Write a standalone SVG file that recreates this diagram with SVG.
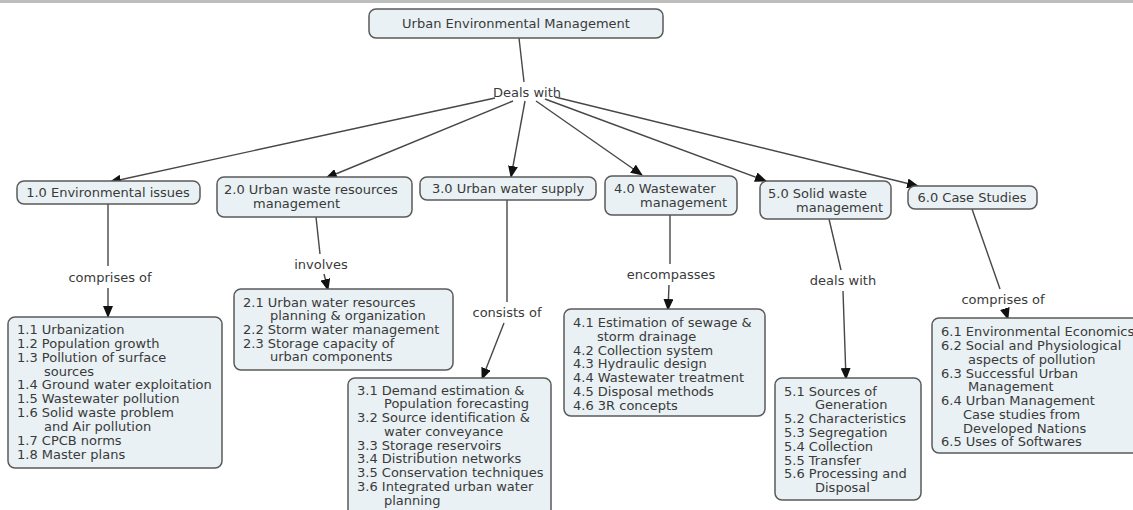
<svg xmlns="http://www.w3.org/2000/svg" width="1133" height="510" viewBox="0 0 1133 510">
<style>
.box{fill:#e9f1f4;stroke:#5a5a5a;stroke-width:1.5}
.t{font-family:"DejaVu Sans",Verdana,sans-serif;font-size:13px;fill:#3a3a3a}
.c{text-anchor:middle}
.ln{stroke:#474747;stroke-width:1.4;fill:none}
.ar{stroke:#474747;stroke-width:1.4;fill:none;marker-end:url(#ah)}
</style>
<defs>
<marker id="ah" markerUnits="userSpaceOnUse" markerWidth="12" markerHeight="10" refX="11" refY="5" orient="auto">
<path d="M0,0 L12,5 L0,10 Z" fill="#111"/>
</marker>
</defs>
<rect x="0" y="0" width="1133" height="3" fill="#bdbdbd"/>
<g id="connectors">
<line class="ln" x1="519" y1="38" x2="524" y2="82"/>
<line class="ar" x1="495" y1="98" x2="110" y2="182"/>
<line class="ar" x1="513" y1="101" x2="326" y2="178"/>
<line class="ar" x1="525" y1="101" x2="511" y2="177"/>
<line class="ar" x1="536" y1="101" x2="642" y2="175"/>
<line class="ar" x1="545" y1="99" x2="766" y2="181"/>
<line class="ar" x1="555" y1="97" x2="918" y2="186"/>
<line class="ln" x1="108" y1="204" x2="108" y2="266"/>
<line class="ar" x1="108" y1="288" x2="108" y2="317"/>
<line class="ln" x1="316" y1="217" x2="320" y2="254"/>
<line class="ar" x1="324" y1="274" x2="328" y2="290"/>
<line class="ln" x1="507" y1="200" x2="507" y2="302"/>
<line class="ar" x1="504" y1="323" x2="482" y2="379"/>
<line class="ln" x1="670" y1="215" x2="670" y2="264"/>
<line class="ar" x1="669" y1="285" x2="668" y2="310"/>
<line class="ln" x1="829" y1="219" x2="841" y2="270"/>
<line class="ar" x1="843" y1="291" x2="846" y2="379"/>
<line class="ln" x1="972" y1="209" x2="1000" y2="289"/>
<line class="ar" x1="1005" y1="309" x2="1008" y2="319"/>
</g>
<g id="labels">
<text class="t c" x="527" y="97">Deals with</text>
<text class="t c" x="110" y="282">comprises of</text>
<text class="t c" x="321" y="269">involves</text>
<text class="t c" x="507" y="317">consists of</text>
<text class="t c" x="671" y="279">encompasses</text>
<text class="t c" x="843" y="285">deals with</text>
<text class="t c" x="1003" y="304">comprises of</text>
</g>
<g id="root">
<rect class="box" x="369" y="9" width="294" height="29" rx="7"/>
<text class="t c" x="516" y="28">Urban Environmental Management</text>
</g>
<g id="n1">
<rect class="box" x="17" y="181" width="183" height="23" rx="7"/>
<text class="t c" x="108" y="197">1.0 Environmental issues</text>
</g>
<g id="n2">
<rect class="box" x="217" y="177" width="195" height="40" rx="7"/>
<text class="t" x="224" y="194">2.0 Urban waste resources</text>
<text class="t" x="253" y="208">management</text>
</g>
<g id="n3">
<rect class="box" x="420" y="177" width="176" height="23" rx="7"/>
<text class="t c" x="508" y="193">3.0 Urban water supply</text>
</g>
<g id="n4">
<rect class="box" x="605" y="176" width="132" height="39" rx="7"/>
<text class="t" x="614" y="193">4.0 Wastewater</text>
<text class="t" x="640" y="207">management</text>
</g>
<g id="n5">
<rect class="box" x="760" y="181" width="131" height="38" rx="7"/>
<text class="t" x="768" y="198">5.0 Solid waste</text>
<text class="t" x="796" y="212">management</text>
</g>
<g id="n6">
<rect class="box" x="908" y="186" width="129" height="23" rx="7"/>
<text class="t c" x="972" y="202">6.0 Case Studies</text>
</g>
<g id="d1">
<rect class="box" x="8" y="317" width="214" height="151" rx="7"/>
<text class="t" x="17" y="334">1.1 Urbanization</text>
<text class="t" x="17" y="348">1.2 Population growth</text>
<text class="t" x="17" y="362">1.3 Pollution of surface</text>
<text class="t" x="44" y="376">sources</text>
<text class="t" x="17" y="389">1.4 Ground water exploitation</text>
<text class="t" x="17" y="403">1.5 Wastewater pollution</text>
<text class="t" x="17" y="417">1.6 Solid waste problem</text>
<text class="t" x="44" y="431">and Air pollution</text>
<text class="t" x="17" y="445">1.7 CPCB norms</text>
<text class="t" x="17" y="459">1.8 Master plans</text>
</g>
<g id="d2">
<rect class="box" x="234" y="289" width="219" height="81" rx="7"/>
<text class="t" x="243" y="307">2.1 Urban water resources</text>
<text class="t" x="270" y="320">planning &amp; organization</text>
<text class="t" x="243" y="334">2.2 Storm water management</text>
<text class="t" x="243" y="348">2.3 Storage capacity of</text>
<text class="t" x="270" y="361">urban components</text>
</g>
<g id="d3">
<rect class="box" x="348" y="378" width="203" height="140" rx="7"/>
<text class="t" x="357" y="395">3.1 Demand estimation &amp;</text>
<text class="t" x="384" y="408">Population forecasting</text>
<text class="t" x="357" y="422">3.2 Source identification &amp;</text>
<text class="t" x="384" y="436">water conveyance</text>
<text class="t" x="357" y="450">3.3 Storage reservoirs</text>
<text class="t" x="357" y="463">3.4 Distribution networks</text>
<text class="t" x="357" y="477">3.5 Conservation techniques</text>
<text class="t" x="357" y="491">3.6 Integrated urban water</text>
<text class="t" x="384" y="505">planning</text>
</g>
<g id="d4">
<rect class="box" x="564" y="309" width="201" height="107" rx="7"/>
<text class="t" x="573" y="327">4.1 Estimation of sewage &amp;</text>
<text class="t" x="597" y="341">storm drainage</text>
<text class="t" x="573" y="355">4.2 Collection system</text>
<text class="t" x="573" y="368">4.3 Hydraulic design</text>
<text class="t" x="573" y="382">4.4 Wastewater treatment</text>
<text class="t" x="573" y="396">4.5 Disposal methods</text>
<text class="t" x="573" y="410">4.6 3R concepts</text>
</g>
<g id="d5">
<rect class="box" x="775" y="378" width="146" height="122" rx="7"/>
<text class="t" x="784" y="396">5.1 Sources of</text>
<text class="t" x="815" y="409">Generation</text>
<text class="t" x="784" y="423">5.2 Characteristics</text>
<text class="t" x="784" y="437">5.3 Segregation</text>
<text class="t" x="784" y="451">5.4 Collection</text>
<text class="t" x="784" y="465">5.5 Transfer</text>
<text class="t" x="784" y="478">5.6 Processing and</text>
<text class="t" x="815" y="492">Disposal</text>
</g>
<g id="d6">
<rect class="box" x="932" y="318" width="210" height="135" rx="7"/>
<text class="t" x="941" y="336">6.1 Environmental Economics</text>
<text class="t" x="941" y="350">6.2 Social and Physiological</text>
<text class="t" x="968" y="364">aspects of pollution</text>
<text class="t" x="941" y="378">6.3 Successful Urban</text>
<text class="t" x="968" y="391">Management</text>
<text class="t" x="941" y="405">6.4 Urban Management</text>
<text class="t" x="963" y="419">Case studies from</text>
<text class="t" x="963" y="433">Developed Nations</text>
<text class="t" x="941" y="446">6.5 Uses of Softwares</text>
</g>
</svg>
